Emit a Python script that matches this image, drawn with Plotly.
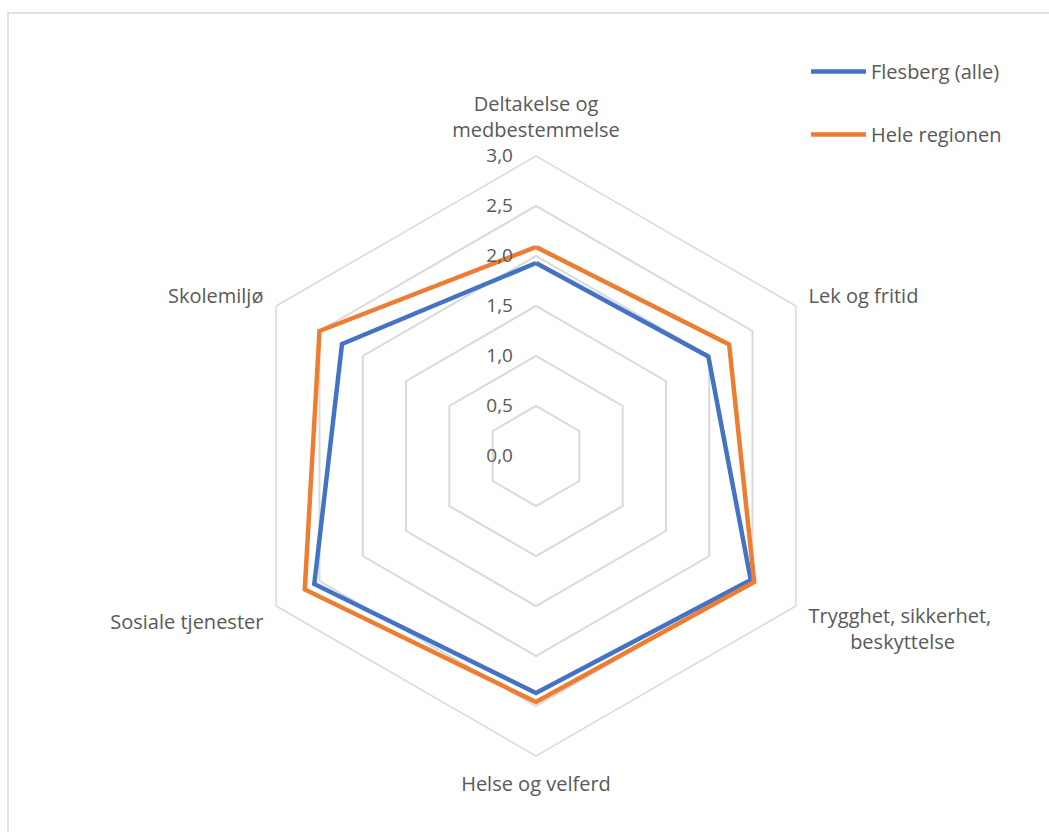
import plotly.graph_objects as go

NB = "\u00a0"
categories = ["Deltakelse og<br>medbestemmelse", "Lek og fritid",
              "Trygghet, sikkerhet,<br>" + NB * 8 + "beskyttelse",
              "Helse og velferd", "Sosiale tjenester", "Skolemiljø"]
flesberg = [1.93, 1.99, 2.48, 2.37, 2.56, 2.24]
region = [2.09, 2.23, 2.52, 2.46, 2.67, 2.50]
radial_ticks = [0, 0.5, 1, 1.5, 2, 2.5, 3]
radial_ticktext = ["0,0", "0,5", "1,0", "1,5", "2,0", "2,5", "3,0"]

W, H = 1049, 832
cx, cy, R = 536, 456, 300
FONT = "Open Sans"
GREY = "#595959"

fig = go.Figure()
fig.add_trace(go.Scatterpolar(r=flesberg + flesberg[:1], theta=categories + categories[:1],
                              mode="lines", name="Flesberg (alle)", legendgroup="a",
                              line=dict(color="#4472C4", width=4.5)))
fig.add_trace(go.Scatterpolar(r=region + region[:1], theta=categories + categories[:1],
                              mode="lines", name="Hele regionen", legendgroup="b",
                              line=dict(color="#ED7D31", width=4.5)))

fig.update_layout(
    width=W, height=H,
    margin=dict(l=0, r=0, t=0, b=0),
    paper_bgcolor="white",
    font=dict(family=FONT, size=20, color=GREY),
    polar=dict(
        domain=dict(x=[(cx - R) / W, (cx + R) / W], y=[(H - cy - R) / H, (H - cy + R) / H]),
        gridshape="linear",
        bgcolor="white",
        radialaxis=dict(range=[0, 3], tickvals=radial_ticks,
                        ticktext=[t + NB * 4 for t in radial_ticktext],
                        angle=90, side="counterclockwise", showline=False, ticks="",
                        gridcolor="#D9D9D9", gridwidth=1.5, tickfont=dict(size=19, color=GREY),
                        tickangle=90),
        angularaxis=dict(rotation=90, direction="clockwise", showgrid=False,
                         showline=True, linecolor="#D9D9D9", linewidth=1.5,
                         ticks="outside", ticklen=10, tickcolor="rgba(0,0,0,0)",
                         tickfont=dict(size=20, color=GREY)),
    ),
    legend=dict(x=806 / W, y=1 - 52 / H, xanchor="left", yanchor="top", tracegroupgap=34,
                font=dict(size=20, color=GREY), itemwidth=55),
    showlegend=True,
)
fig.add_shape(type="rect", xref="paper", yref="paper",
              x0=8 / W, x1=1.05, y0=-0.05, y1=1 - 13 / H,
              line=dict(color="#D9D9D9", width=1.5), layer="below")

fig.write_html("out.html")
